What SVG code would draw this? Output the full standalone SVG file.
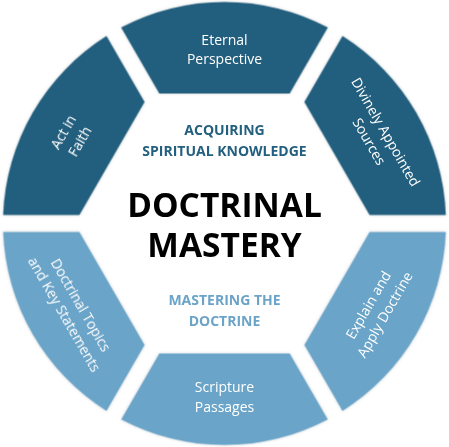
<svg xmlns="http://www.w3.org/2000/svg" width="449" height="447" viewBox="0 0 449 447">
<style>
.dark{fill:#235f7e}
.light{fill:#6ba4c8}
.lbl{font-family:"Open Sans","Liberation Sans",sans-serif;font-size:14px;fill:#ffffff;text-anchor:middle}
.sub{font-family:"Open Sans","Liberation Sans",sans-serif;font-size:14px;font-weight:bold;text-anchor:middle}
.title{font-family:"Open Sans","Liberation Sans",sans-serif;font-size:33.5px;font-weight:bold;fill:#000000;text-anchor:middle}
</style>
<defs>
<path id="seg" d="M -65.18 -129.9 L -103.31 -195.93 A 221.5 221.5 0 0 1 103.31 -195.93 L 65.18 -129.9 Z"/>
<filter id="sh" x="-10%" y="-10%" width="120%" height="120%">
<feDropShadow dx="0" dy="0" stdDeviation="1.5" flood-color="#000000" flood-opacity="0.2"/>
</filter>
</defs>
<rect width="449" height="447" fill="#ffffff"/>
<g transform="translate(224.5,223.5)" filter="url(#sh)">
<g id="eternal-perspective"><use href="#seg" class="dark"/></g>
<g id="divinely-appointed-sources"><use href="#seg" class="dark" transform="rotate(60)"/></g>
<g id="explain-apply-doctrine"><use href="#seg" class="light" transform="rotate(120)"/></g>
<g id="scripture-passages"><use href="#seg" class="light" transform="rotate(180)"/></g>
<g id="doctrinal-topics"><use href="#seg" class="light" transform="rotate(240)"/></g>
<g id="act-in-faith"><use href="#seg" class="dark" transform="rotate(300)"/></g>
</g>
<g id="connectors"></g>
<g id="labels">
<text class="lbl" x="224.5" y="45">Eternal</text>
<text class="lbl" x="224.5" y="64">Perspective</text>
<text class="lbl" x="224.5" y="392">Scripture</text>
<text class="lbl" x="224.5" y="412">Passages</text>
<g transform="translate(72,137) rotate(-60)">
<text class="lbl" x="0" y="-5">Act in</text>
<text class="lbl" x="0" y="14">Faith</text>
</g>
<g transform="translate(377,137) rotate(60)">
<text class="lbl" x="0" y="-5">Divinely Appointed</text>
<text class="lbl" x="0" y="14">Sources</text>
</g>
<g transform="translate(72,310) rotate(60)">
<text class="lbl" x="0" y="-5">Doctrinal Topics</text>
<text class="lbl" x="0" y="14">and Key Statements</text>
</g>
<g transform="translate(377,310) rotate(-60)">
<text class="lbl" x="0" y="-5">Explain and</text>
<text class="lbl" x="0" y="14">Apply Doctrine</text>
</g>
</g>
<g id="center">
<text class="sub" x="224.5" y="135" fill="#235f7e">ACQUIRING</text>
<text class="sub" x="224.5" y="156" fill="#235f7e">SPIRITUAL KNOWLEDGE</text>
<text class="title" x="224.5" y="216.5">DOCTRINAL</text>
<text class="title" x="224.5" y="257">MASTERY</text>
<text class="sub" x="224.5" y="305" fill="#6ba4c8">MASTERING THE</text>
<text class="sub" x="224.5" y="326" fill="#6ba4c8">DOCTRINE</text>
</g>
</svg>
